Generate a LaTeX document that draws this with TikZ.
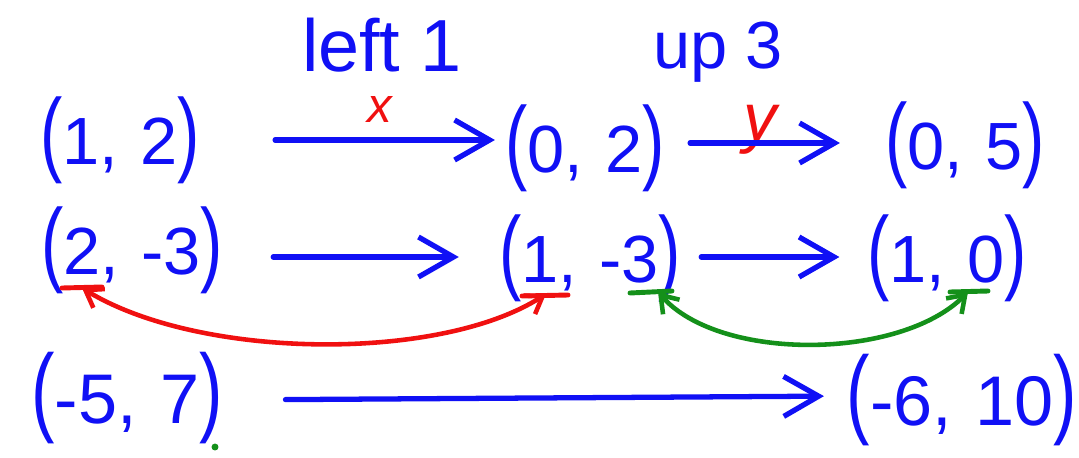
\documentclass[tikz,border=0pt]{standalone}
\usepackage{fontspec}
\setsansfont{Liberation Sans}
\usetikzlibrary{arrows.meta,positioning}
\definecolor{pen}{HTML}{1010F5}
\definecolor{penred}{HTML}{F01010}
\definecolor{pengreen}{HTML}{14901A}
\newcommand{\vecpair}[2]{\scalebox{1}[1.4]{(}#1,\,\,#2\scalebox{1}[1.4]{)}}

\begin{document}
\begin{tikzpicture}[x=0.02cm, y=-0.02cm, font=\sffamily,
  ink/.style={text=pen, inner sep=0pt, font=\sffamily\fontsize{38}{44}\selectfont},
  bigink/.style={ink, font=\sffamily\fontsize{40}{46}\selectfont},
  move/.style={pen, line width=3pt, line cap=round, -{Straight Barb[length=7mm,width=8mm]}},
  swap/.style={line width=2.6pt, line cap=round, {Straight Barb[length=3.2mm,width=4.4mm]}-{Straight Barb[length=3.2mm,width=4.4mm]}},
  underline/.style={line width=2.8pt, line cap=round}]
  \useasboundingbox (0,0) rectangle (1079,457);

  % labels over the first row
  \node[ink, font=\sffamily\fontsize{42}{48}\selectfont] (left) at (382,45) {left 1};
  \node[ink, font=\sffamily\fontsize{38}{44}\selectfont] (up) at (718,52) {up 3};
  \node[text=penred, font=\sffamily\itshape\fontsize{28}{32}\selectfont] (x) at (380,110) {x};
  \node[text=penred, inner sep=0pt, font=\sffamily\itshape\fontsize{38}{42}\selectfont] (y) at (760,130) {y};

  % points
  \node[ink] (p12) at (120,140) {\vecpair{1}{2}};
  \node[ink] (p02) at (585,148) {\vecpair{0}{2}};
  \node[ink] (p05) at (965,145) {\vecpair{0}{5}};
  \node[ink] (p2m3) at (132,250) {\vecpair{2}{-3}};
  \node[ink] (p1m3) at (590,258) {\vecpair{1}{-3}};
  \node[ink] (p10) at (947,258) {\vecpair{1}{0}};
  \node[bigink] (pm57) at (127,398) {\vecpair{-5}{7}};
  \node[bigink] (pm610) at (962,400) {\vecpair{-6}{10}};

  % moves
  \draw[move, shorten <=15mm, shorten >=2mm] (p12.east) -- (p12.east -| p02.west);
  \draw[move, shorten <=5mm, shorten >=9mm] (p02.east |- 0,143) -- (p05.west |- 0,143);
  \draw[move, shorten <=10mm, shorten >=8mm] (p2m3.east |- 0,257) -- (p1m3.west |- 0,257);
  \draw[move, shorten <=4mm, shorten >=5.5mm] (p1m3.east |- 0,257) -- (p10.west |- 0,257);
  \draw[move, shorten <=12.5mm, shorten >=4.5mm] (pm57.east |- 0,400) -- (pm610.west |- 0,396);

  % components swapped
  \coordinate (xa) at (82,288);
  \coordinate (xb) at (546,294);
  \coordinate (ya) at (658,292);
  \coordinate (yb) at (968,292);
  \draw[penred, underline] (62,288) -- (102,287);
  \draw[penred, underline] (522,296) -- (568,295);
  \draw[penred, swap] (xa) .. controls (200,360) and (440,362) .. (xb);
  \draw[pengreen, underline] (630,293) -- (672,291);
  \draw[pengreen, underline] (950,292) -- (988,291);
  \draw[pengreen, swap] (ya) .. controls (720,362) and (900,360) .. (yb);

  \node[circle, fill=pengreen, inner sep=1.4pt] (dot) at (215,447) {};
\end{tikzpicture}
\end{document}
